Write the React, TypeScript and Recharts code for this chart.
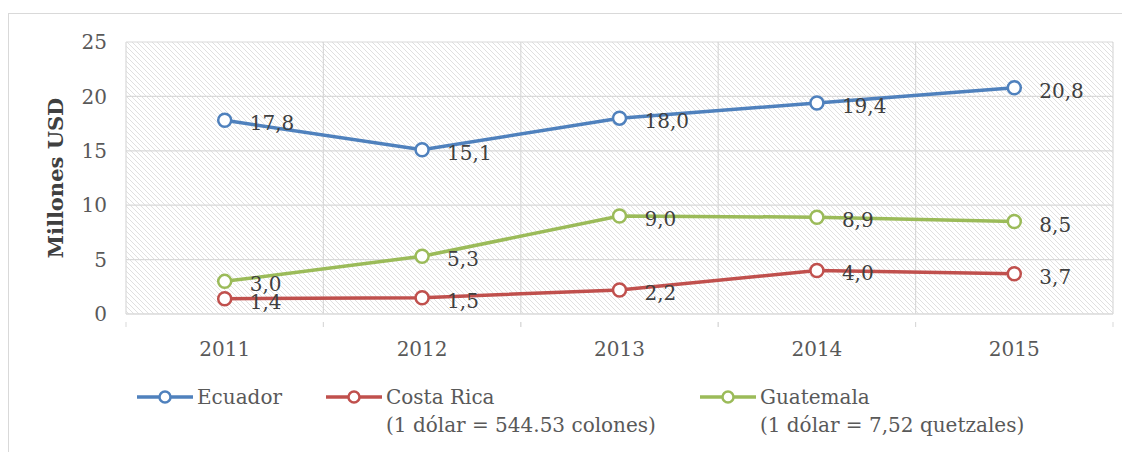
import React from 'react'
import { LineChart, Line, XAxis, YAxis, CartesianGrid, LabelList, Label } from 'recharts'

const years = ['2011', '2012', '2013', '2014', '2015']
const ecuador = [17.8, 15.1, 18.0, 19.4, 20.8]
const costaRica = [1.4, 1.5, 2.2, 4.0, 3.7]
const guatemala = [3.0, 5.3, 9.0, 8.9, 8.5]
const yTicks = [0, 5, 10, 15, 20, 25]

const series = [
  { key: 'ecuador', name: 'Ecuador', note: '', color: '#4F81BD' },
  { key: 'costaRica', name: 'Costa Rica', note: '(1 dólar = 544.53 colones)', color: '#C0504D' },
  { key: 'guatemala', name: 'Guatemala', note: '(1 dólar = 7,52 quetzales)', color: '#9BBB59' },
]

const data = years.map((year, i) => ({
  year,
  ecuador: ecuador[i],
  costaRica: costaRica[i],
  guatemala: guatemala[i],
}))

const W = 1122
const H = 360
const margin = { top: 34, right: 17, bottom: 14, left: 0 }
const yAxisWidth = 118
const plotWidth = W - margin.left - margin.right - yAxisWidth
const band = plotWidth / years.length
const font = '"DejaVu Serif", serif'

function fmt(v: number) {
  return v.toFixed(1).replace('.', ',')
}

function XTick(props: any) {
  const { x, y, payload } = props
  return (
    <g>
      <line x1={x - band / 2} x2={x - band / 2} y1={y} y2={y + 5} stroke="#d9d9d9" />
      <line x1={x + band / 2} x2={x + band / 2} y1={y} y2={y + 5} stroke="#d9d9d9" />
      <text x={x} y={y + 20} dy="0.71em" textAnchor="middle" fill="#595959" fontSize={20}>
        {payload.value}
      </text>
    </g>
  )
}

function ValueLabel(props: any) {
  const { x, y, value } = props
  return (
    <text x={x + 25} y={y + 10} fill="#404040" fontSize={20}>
      {fmt(Number(value))}
    </text>
  )
}

function Legend() {
  return (
    <div style={{ position: 'absolute', left: 129, top: 375, display: 'flex', gap: 44, fontSize: 20, color: '#595959' }}>
      {series.map((s) => (
        <div key={s.key} style={{ display: 'flex', alignItems: 'flex-start' }}>
          <svg width={56} height={28} style={{ marginRight: 4 }}>
            <line x1={0} x2={56} y1={14} y2={14} stroke={s.color} strokeWidth={3.5} />
            <circle cx={28} cy={14} r={5.5} fill="#fff" stroke={s.color} strokeWidth={2.5} />
          </svg>
          <div style={{ lineHeight: '28px', whiteSpace: 'nowrap' }}>
            <div>{s.name}</div>
            {s.note && <div>{s.note}</div>}
          </div>
        </div>
      ))}
    </div>
  )
}

export default function App() {
  return (
    <div style={{ position: 'relative', width: W, height: 444, overflow: 'hidden', fontFamily: font, background: '#fff' }}>
      <div style={{ position: 'absolute', left: 0, top: 5, width: W + 20, height: 500, border: '1px solid #d9d9d9', boxSizing: 'border-box' }} />
      <div style={{ position: 'absolute', left: 0, top: 0 }}>
        <LineChart width={W} height={H} data={data} margin={margin}>
          <defs>
            <pattern id="hatch" width={5} height={5} patternUnits="userSpaceOnUse">
              <rect width={5} height={5} fill="#fff" />
              <path d="M0,0 L5,5 M-1,4 L1,6 M4,-1 L6,1" stroke="#e0e0e0" strokeWidth={1} />
            </pattern>
          </defs>
          <CartesianGrid
            stroke="#d9d9d9"
            strokeWidth={1.2}
            fill="url(#hatch)"
            fillOpacity={1}
            verticalCoordinatesGenerator={({ offset }: any) =>
              years.map((_, i) => offset.left + (offset.width * i) / years.length).concat(offset.left + offset.width)
            }
          />
          <XAxis
            dataKey="year"
            axisLine={{ stroke: '#d9d9d9' }}
            tickLine={false}
            tick={<XTick />}
            height={40}
            interval={0}
            padding={{ left: band / 2, right: band / 2 }}
          />
          <YAxis
            domain={[0, 25]}
            ticks={yTicks}
            width={yAxisWidth}
            axisLine={false}
            tickLine={false}
            tickSize={0}
            tickMargin={19}
            tick={{ fill: '#595959', fontSize: 20 }}
          >
            <Label
              content={({ viewBox }: any) => {
                const cx = viewBox.x + 47
                const cy = viewBox.y + viewBox.height / 2
                return (
                  <text
                    x={cx}
                    y={cy}
                    transform={`rotate(-90 ${cx} ${cy})`}
                    textAnchor="middle"
                    dominantBaseline="central"
                    fontWeight="bold"
                    fontSize={21}
                    fill="#404040"
                  >
                    Millones USD
                  </text>
                )
              }}
            />
          </YAxis>
          {series.map((s) => (
            <Line
              key={s.key}
              type="linear"
              dataKey={s.key}
              name={s.name}
              stroke={s.color}
              strokeWidth={3.5}
              dot={{ r: 6.5, fill: '#fff', stroke: s.color, strokeWidth: 2.5 }}
              isAnimationActive={false}
            >
              <LabelList dataKey={s.key} content={<ValueLabel />} />
            </Line>
          ))}
        </LineChart>
      </div>
      <Legend />
    </div>
  )
}
